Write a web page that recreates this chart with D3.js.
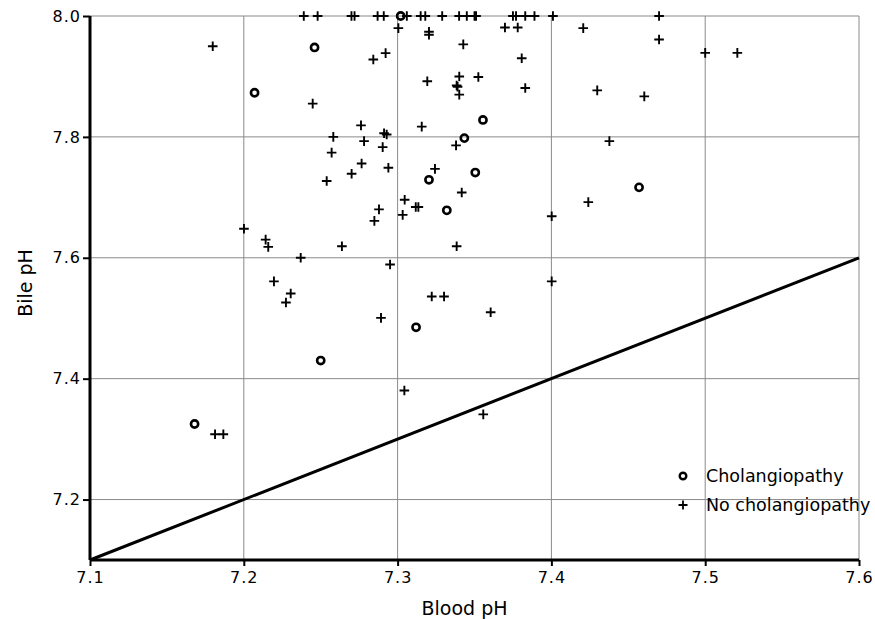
<!DOCTYPE html>
<html>
<head>
<meta charset="utf-8">
<script src="https://cdn.jsdelivr.net/npm/d3@7"></script>
<style>
    body { margin: 0; background: #fff; }
    text { font-family: "DejaVu Sans", Verdana, sans-serif; fill: #000; }
</style>
</head>
<body>
<div id="chart"></div>
<script>
    // cholangiopathy (circles)
    var chol_blood = [7.302, 7.246, 7.207, 7.3555, 7.3434, 7.3505, 7.3204, 7.457, 7.332, 7.312, 7.250, 7.168];
    var chol_bile  = [8.000, 7.948, 7.873, 7.828, 7.798, 7.741, 7.729, 7.7165, 7.6785, 7.485, 7.430, 7.325];

    // no cholangiopathy (crosses)
    var nochol_blood = [
        7.239, 7.248, 7.270, 7.272, 7.287, 7.291, 7.306, 7.315, 7.318, 7.329, 7.340, 7.345, 7.350, 7.351,
        7.375, 7.377, 7.383, 7.389, 7.401, 7.470,
        7.1798, 7.2842, 7.2448, 7.2762, 7.2582, 7.2782, 7.2571, 7.2766, 7.2701, 7.2539,
        7.3005, 7.3204, 7.3204, 7.3698, 7.3781, 7.4207, 7.470, 7.3427, 7.2922, 7.3807,
        7.3193, 7.3401, 7.3525, 7.3384, 7.3390, 7.3401, 7.3830, 7.4298, 7.4604,
        7.3157, 7.2912, 7.2929, 7.338, 7.4377, 7.2903, 7.294, 7.3243, 7.3417, 7.3046, 7.424,
        7.500, 7.5209, 7.3118, 7.3135, 7.3033, 7.2879, 7.2849, 7.2001, 7.2142, 7.2159, 7.2638,
        7.237, 7.2951, 7.2196, 7.2305, 7.2274, 7.3222, 7.3302, 7.2892, 7.4002, 7.3384, 7.4002,
        7.3605, 7.3044, 7.3557, 7.1813, 7.1867
    ];
    var nochol_bile = [
        8.0, 8.0, 8.0, 8.0, 8.0, 8.0, 8.0, 8.0, 8.0, 8.0, 8.0, 8.0, 8.0, 8.0,
        8.0, 8.0, 8.0, 8.0, 8.0, 8.0,
        7.950, 7.928, 7.855, 7.819, 7.800, 7.793, 7.774, 7.756, 7.739, 7.727,
        7.980, 7.974, 7.969, 7.981, 7.981, 7.980, 7.961, 7.953, 7.9385, 7.930,
        7.892, 7.900, 7.899, 7.885, 7.883, 7.870, 7.881, 7.877, 7.867,
        7.817, 7.806, 7.804, 7.786, 7.793, 7.783, 7.749, 7.747, 7.708, 7.696, 7.692,
        7.939, 7.939, 7.684, 7.684, 7.671, 7.680, 7.661, 7.648, 7.630, 7.618, 7.619,
        7.600, 7.589, 7.561, 7.541, 7.526, 7.536, 7.536, 7.5005, 7.6686, 7.619, 7.561,
        7.510, 7.3805, 7.341, 7.308, 7.308
    ];

    var x_ticks = [7.1, 7.2, 7.3, 7.4, 7.5, 7.6];
    var y_ticks = [7.2, 7.4, 7.6, 7.8, 8.0];
    var identity = [7.1, 7.6];
    var legend_labels = ['Cholangiopathy', 'No cholangiopathy'];

    var width = 875, height = 619;
    var plot = {left: 90, right: 859, top: 16, bottom: 560};
    var grid_clr = '#8a8a8a';

    var x_scale = d3.scaleLinear().domain([7.1, 7.6]).range([plot.left, plot.right]);
    var y_scale = d3.scaleLinear().domain([7.1, 8.0]).range([plot.bottom, plot.top]);

    var svg = d3.select('#chart').append('svg')
        .attr('width', width)
        .attr('height', height);

    // grid
    svg.selectAll('line.vgrid')
        .data(x_ticks.slice(1))
        .enter().append('line')
        .attr('class', 'vgrid')
        .attr('x1', function(d){ return x_scale(d); })
        .attr('x2', function(d){ return x_scale(d); })
        .attr('y1', plot.top)
        .attr('y2', plot.bottom)
        .attr('stroke', grid_clr)
        .attr('stroke-width', 1);

    svg.selectAll('line.hgrid')
        .data(y_ticks)
        .enter().append('line')
        .attr('class', 'hgrid')
        .attr('x1', plot.left)
        .attr('x2', plot.right)
        .attr('y1', function(d){ return y_scale(d); })
        .attr('y2', function(d){ return y_scale(d); })
        .attr('stroke', grid_clr)
        .attr('stroke-width', 1);

    // identity line
    svg.append('line')
        .attr('x1', x_scale(identity[0]))
        .attr('y1', y_scale(identity[0]))
        .attr('x2', x_scale(identity[1]))
        .attr('y2', y_scale(identity[1]))
        .attr('stroke', '#000')
        .attr('stroke-width', 3);

    // axes
    var x_axis = svg.append('g')
        .attr('transform', 'translate(0,' + plot.bottom + ')')
        .call(d3.axisBottom(x_scale).tickValues(x_ticks).tickSize(6).tickPadding(6).tickFormat(d3.format('.1f')));
    var y_axis = svg.append('g')
        .attr('transform', 'translate(' + plot.left + ',0)')
        .call(d3.axisLeft(y_scale).tickValues(y_ticks).tickSize(7).tickPadding(2).tickFormat(d3.format('.1f')));

    [x_axis, y_axis].forEach(function(a){
        a.select('.domain').attr('stroke', '#000').attr('stroke-width', 3);
        a.selectAll('.tick line').attr('stroke', '#000').attr('stroke-width', 2);
        a.selectAll('.tick text')
            .attr('font-family', '"DejaVu Sans", Verdana, sans-serif')
            .attr('font-size', 16)
            .attr('letter-spacing', 1)
            .attr('fill', '#000');
    });
    y_axis.select('.domain').attr('d', 'M0,' + plot.bottom + 'V' + plot.top);
    x_axis.select('.domain').attr('d', 'M' + plot.left + ',0H' + plot.right);

    svg.append('text')
        .attr('x', (plot.left + plot.right) / 2 - 10)
        .attr('y', 615)
        .attr('text-anchor', 'middle')
        .attr('font-size', 19)
        .text('Blood pH');

    svg.append('text')
        .attr('transform', 'translate(32,283) rotate(-90)')
        .attr('text-anchor', 'middle')
        .attr('font-size', 19)
        .text('Bile pH');

    // points
    function cross(x, y, s){
        return 'M' + (x - s) + ',' + y + 'H' + (x + s) + 'M' + x + ',' + (y - s) + 'V' + (y + s);
    }

    svg.selectAll('path.nochol')
        .data(d3.range(nochol_blood.length))
        .enter().append('path')
        .attr('class', 'nochol')
        .attr('d', function(i){ return cross(x_scale(nochol_blood[i]), y_scale(nochol_bile[i]), 4.8); })
        .attr('stroke', '#000')
        .attr('stroke-width', 1.9)
        .attr('fill', 'none');

    svg.selectAll('circle.chol')
        .data(d3.range(chol_blood.length))
        .enter().append('circle')
        .attr('class', 'chol')
        .attr('cx', function(i){ return x_scale(chol_blood[i]); })
        .attr('cy', function(i){ return y_scale(chol_bile[i]); })
        .attr('r', 3.6)
        .attr('stroke', '#000')
        .attr('stroke-width', 2.6)
        .attr('fill', 'none');

    // legend
    var legend = svg.append('g');
    legend.append('circle')
        .attr('cx', 683).attr('cy', 476).attr('r', 3.3)
        .attr('stroke', '#000').attr('stroke-width', 2.4).attr('fill', 'none');
    legend.append('path')
        .attr('d', cross(683, 505, 4.5))
        .attr('stroke', '#000').attr('stroke-width', 1.8);
    legend.selectAll('text')
        .data(legend_labels)
        .enter().append('text')
        .attr('x', 706)
        .attr('y', function(d, i){ return 482 + i * 29; })
        .attr('font-size', 17.5)
        .text(function(d){ return d; });
</script>
</body>
</html>
